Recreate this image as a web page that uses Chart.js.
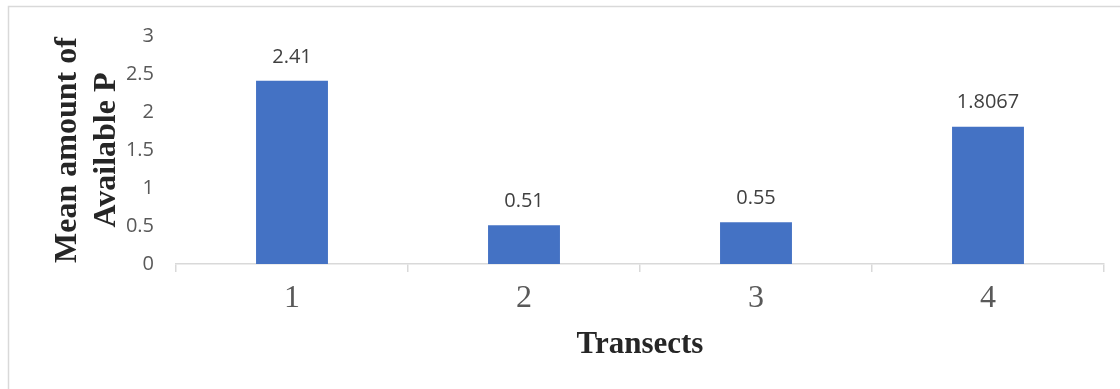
<!DOCTYPE html>
<html>
<head>
<meta charset="utf-8">
<script src="https://cdn.jsdelivr.net/npm/chart.js@4"></script>
<style>
  html, body { margin: 0; padding: 0; background: #fff; }
  #wrap { width: 1120px; height: 389px; }
</style>
</head>
<body>
<div id="wrap"><canvas id="chart" width="1120" height="389"></canvas></div>
<script>
// transect means
const transects = ['1', '2', '3', '4'];
const meanP = [2.41, 0.51, 0.55, 1.8067];
const valueLabels = ['2.41', '0.51', '0.55', '1.8067'];
const yTicks = [0, 0.5, 1, 1.5, 2, 2.5, 3];

const serif = '"Liberation Serif", "Times New Roman", serif';
const sans = '"Open Sans", sans-serif';

// thin frame around the whole chart
const framePlugin = {
    id: 'frame',
    beforeDraw(chart) {
        const ctx = chart.ctx;
        ctx.save();
        ctx.fillStyle = '#fff';
        ctx.fillRect(0, 0, chart.width, chart.height);
        ctx.strokeStyle = '#d9d9d9';
        ctx.lineWidth = 1.5;
        ctx.strokeRect(8.5, 6.5, chart.width + 20, chart.height + 20);
        ctx.restore();
    }
};

// value labels above each bar
const valueLabelPlugin = {
    id: 'valueLabels',
    afterDatasetsDraw(chart) {
        const ctx = chart.ctx;
        const meta = chart.getDatasetMeta(0);
        ctx.save();
        ctx.font = '20px ' + sans;
        ctx.fillStyle = '#404040';
        ctx.textAlign = 'center';
        ctx.textBaseline = 'middle';
        meta.data.forEach((bar, i) => {
            ctx.fillText(valueLabels[i], bar.x, bar.y - 24);
        });
        ctx.restore();
    }
};

new Chart(document.getElementById('chart'), {
    type: 'bar',
    data: {
        labels: transects,
        datasets: [{
            data: meanP,
            backgroundColor: '#4472C4',
            categoryPercentage: 1,
            barPercentage: 0.31
        }]
    },
    options: {
        responsive: false,
        animation: false,
        layout: { padding: { top: 36, right: 16, bottom: 0, left: 0 } },
        plugins: {
            legend: { display: false },
            tooltip: { enabled: false }
        },
        scales: {
            x: {
                offset: true,
                border: { display: true, color: '#d9d9d9', width: 1.5 },
                grid: {
                    display: true,
                    offset: true,
                    drawOnChartArea: false,
                    drawTicks: true,
                    tickLength: 8,
                    color: '#d9d9d9',
                    lineWidth: 1.5
                },
                ticks: {
                    color: '#595959',
                    padding: 7,
                    font: { family: serif, size: 32 }
                },
                title: {
                    display: true,
                    text: 'Transects',
                    color: '#262626',
                    padding: { top: 0, bottom: 25 },
                    font: { family: serif, size: 31, weight: 'bold' }
                },
                afterFit(scale) { scale.height = 125; }
            },
            y: {
                min: 0,
                max: 3,
                border: { display: false },
                grid: { display: false },
                afterBuildTicks(scale) {
                    scale.ticks = yTicks.map(v => ({ value: v }));
                },
                ticks: {
                    color: '#595959',
                    padding: 14,
                    font: { family: sans, size: 20 },
                    callback: (value) => String(value)
                },
                title: {
                    display: true,
                    text: ['Mean amount of', 'Available P'],
                    color: '#262626',
                    padding: { top: 49, bottom: 0 },
                    font: { family: serif, size: 32, weight: 'bold', lineHeight: 1.2 }
                },
                afterFit(scale) { scale.width = 176; }
            }
        }
    },
    plugins: [framePlugin, valueLabelPlugin]
});
</script>
</body>
</html>
